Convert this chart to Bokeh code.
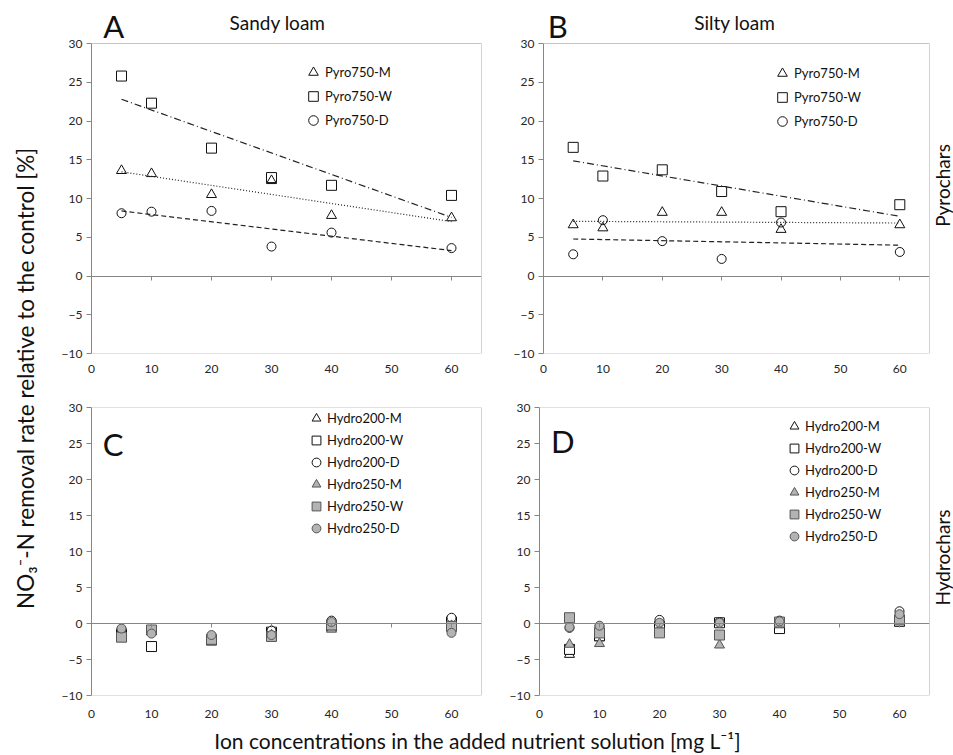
import numpy as np
from bokeh.plotting import figure
from bokeh.models import Legend, LegendItem, LinearAxis, FixedTicker, Label, Range1d, Span
from bokeh.layouts import row, column
from bokeh.embed import file_html
from bokeh.resources import INLINE
from bokeh.core.properties import value

FONT = "Lato"

# ---------------- data ----------------
conc = [5, 10, 20, 30, 40, 60]
x_ticks = [0, 10, 20, 30, 40, 50, 60]
y_ticks = [-10, -5, 0, 5, 10, 15, 20, 25, 30]

sandy_pyro750_M = [13.6, 13.2, 10.5, 12.3, 7.8, 7.5]
sandy_pyro750_W = [25.8, 22.3, 16.5, 12.7, 11.7, 10.4]
sandy_pyro750_D = [8.1, 8.3, 8.4, 3.8, 5.6, 3.6]

silty_pyro750_M = [6.6, 6.2, 8.2, 8.2, 6.0, 6.6]
silty_pyro750_W = [16.6, 12.9, 13.7, 10.9, 8.3, 9.2]
silty_pyro750_D = [2.8, 7.2, 4.5, 2.2, 6.9, 3.1]

sandy_hydro200_M = [-1.2, -1.0, -2.0, -0.7, -0.5, -0.2]
sandy_hydro200_W = [-1.5, -3.2, -2.3, -1.2, -0.3, 0.2]
sandy_hydro200_D = [-0.8, -1.2, -1.8, -1.0, 0.4, 0.8]
sandy_hydro250_M = [-1.3, -1.1, -2.0, -1.6, -0.8, -0.3]
sandy_hydro250_W = [-1.9, -0.9, -2.2, -1.8, -0.2, -0.4]
sandy_hydro250_D = [-0.7, -1.4, -1.6, -1.6, 0.2, -1.3]

silty_hydro200_M = [-4.3, -2.0, -0.3, 0.0, -0.3, 0.2]
silty_hydro200_W = [-3.6, -1.7, -0.4, 0.1, -0.7, 0.3]
silty_hydro200_D = [-0.6, -0.4, 0.5, 0.2, 0.4, 1.7]
silty_hydro250_M = [-2.9, -2.8, -0.8, -3.0, -0.2, 0.6]
silty_hydro250_W = [0.8, -1.3, -1.3, -1.6, 0.2, 0.5]
silty_hydro250_D = [-0.5, -0.3, 0.1, 0.1, 0.3, 1.3]

pyro_labels = ["Pyro750-M", "Pyro750-W", "Pyro750-D"]
hydro_labels = ["Hydro200-M", "Hydro200-W", "Hydro200-D",
                "Hydro250-M", "Hydro250-W", "Hydro250-D"]
soil_titles = ["Sandy loam", "Silty loam"]
panel_letters = ["A", "B", "C", "D"]
row_titles = ["Pyrochars", "Hydrochars"]
y_title = "NO\u2083\u207b-N  removal rate relative to the control [%]"
x_title = "Ion concentrations in the added nutrient solution [mg L\u207b\u00b9]"

Y_MIN, Y_MAX, X_MAX = -10, 30, 65

AXIS_GRAY = "#868686"
BORDER_GRAY = "#c4c4c4"
FILL_GRAY = "#b3b3b3"
EDGE_GRAY = "#555555"
INK = "#111111"


def make_panel(left, frame_w, right, top, plot_h, head, bottom, xstand):
    """plot_h: pixel height of the -10..30 box; head: extra pixels above it inside the frame."""
    y_top = Y_MAX + head * (Y_MAX - Y_MIN) / plot_h
    p = figure(title=None, width=left + frame_w + right, height=top + head + plot_h + bottom,
               x_range=Range1d(0, X_MAX), y_range=Range1d(Y_MIN, y_top),
               x_axis_type=None, y_axis_type=None,
               output_backend="svg", toolbar_location=None,
               min_border_left=left, min_border_right=right,
               min_border_top=top, min_border_bottom=bottom)
    p.outline_line_color = None
    yax = LinearAxis(ticker=FixedTicker(ticks=y_ticks), bounds=(Y_MIN, Y_MAX),
                     axis_line_color=AXIS_GRAY, major_tick_line_color=AXIS_GRAY,
                     major_tick_out=5, major_tick_in=0,
                     minor_tick_line_color=None,
                     major_label_standoff=4,
                     major_label_text_font=FONT,
                     major_label_text_font_size="12px",
                     major_label_text_color="#262626")
    p.add_layout(yax, "left")
    xax = LinearAxis(ticker=FixedTicker(ticks=x_ticks),
                     axis_line_color=None, major_tick_line_color=None,
                     minor_tick_line_color=None,
                     major_label_standoff=xstand,
                     major_label_text_font=FONT,
                     major_label_text_font_size="12px",
                     major_label_text_color="#262626")
    p.add_layout(xax, "below")
    zax = LinearAxis(fixed_location=0, ticker=FixedTicker(ticks=x_ticks),
                     axis_line_color=AXIS_GRAY, major_tick_line_color=AXIS_GRAY,
                     major_tick_out=4, major_tick_in=0,
                     minor_tick_line_color=None,
                     major_label_text_color=None)
    p.add_layout(zax, "below")
    # box border: top & bottom lines, right edge
    p.add_layout(Span(location=Y_MAX, dimension="width", line_color=BORDER_GRAY, line_width=1))
    p.add_layout(Span(location=Y_MIN, dimension="width", line_color=BORDER_GRAY, line_width=1))
    rax = LinearAxis(fixed_location=X_MAX, bounds=(Y_MIN, Y_MAX), ticker=FixedTicker(ticks=[]),
                     axis_line_color="#a8a8a8", major_tick_line_color=None,
                     minor_tick_line_color=None, major_label_text_color=None)
    p.add_layout(rax, "right")
    return p


def make_legend(items, loc, box):
    return Legend(items=items, location=loc, orientation="vertical",
                  glyph_width=box, glyph_height=box, label_height=box,
                  label_standoff=-4, spacing=0, padding=0, margin=0,
                  border_line_color=None, background_fill_alpha=0,
                  label_text_font=FONT, label_text_font_size="13px",
                  label_text_color=INK)


def pyro_panel(p, M, W, D, legend_loc):
    styles = [("triangle", 10, M, "1 2"), ("square", 10, W, "7 3 1 3"), ("circle", 9, D, "5 3")]
    items = []
    for (marker, size, vals, dash), lab in zip(styles, pyro_labels):
        r = p.scatter(conc, vals, marker=marker, size=size, fill_color=None,
                      line_color=INK, line_width=1)
        slope, intercept = np.polyfit(conc, vals, 1)
        xs = [conc[0], conc[-1]]
        ys = [slope * xv + intercept for xv in xs]
        p.line(xs, ys, line_color="#222222", line_width=1.2, line_dash=dash)
        items.append(LegendItem(label=lab, renderers=[r]))
    p.add_layout(make_legend(items, legend_loc, 24))


def hydro_panel(p, series, legend_loc, small_first=False):
    markers = ["triangle", "square", "circle", "triangle", "square", "circle"]
    sizes = [10, 10, 9, 10, 10, 9]
    if small_first:
        sizes[0] = 6
    items = []
    for i, (vals, lab) in enumerate(zip(series, hydro_labels)):
        gray = i >= 3
        r = p.scatter(conc, vals, marker=markers[i], size=sizes[i],
                      fill_color=FILL_GRAY if gray else "white",
                      line_color=EDGE_GRAY if gray else INK,
                      line_width=1)
        items.append(LegendItem(label=lab, renderers=[r]))
    p.add_layout(make_legend(items, legend_loc, 22))


def blank(w, h):
    f = figure(title=None, width=w, height=h, x_range=Range1d(0, w), y_range=Range1d(0, h),
               x_axis_type=None, y_axis_type=None, min_border=0,
               output_backend="svg", toolbar_location=None)
    f.outline_line_color = None
    return f


# ---------------- panels ----------------
pA = make_panel(41, 390, 10, 0, 310, 43, 32, 5)
pB = make_panel(52, 386, 1, 0, 310, 43, 32, 5)
pC = make_panel(41, 390, 10, 22, 290, 0, 25, 8)
pD = make_panel(48, 390, 1, 20, 290, 0, 27, 8)

# legend location: (left of glyph box, bottom of legend) from the frame's bottom-left, px
pyro_panel(pA, sandy_pyro750_M, sandy_pyro750_W, sandy_pyro750_D, (210, 221))
pyro_panel(pB, silty_pyro750_M, silty_pyro750_W, silty_pyro750_D, (227, 220))
hydro_panel(pC, [sandy_hydro200_M, sandy_hydro200_W, sandy_hydro200_D,
                 sandy_hydro250_M, sandy_hydro250_W, sandy_hydro250_D], (214, 156), small_first=True)
hydro_panel(pD, [silty_hydro200_M, silty_hydro200_W, silty_hydro200_D,
                 silty_hydro250_M, silty_hydro250_W, silty_hydro250_D], (244, 148))

# panel letters and soil titles (A/B above the box, C/D inside it)
for p, letter, lx, ly in [(pA, panel_letters[0], 3.7, 32.3), (pB, panel_letters[1], 2.4, 32.3),
                          (pC, panel_letters[2], 3.6, 25.0), (pD, panel_letters[3], 3.9, 25.4)]:
    p.add_layout(Label(x=lx, y=ly, text=letter, text_font=FONT,
                       text_font_size="31px", text_align="center",
                       text_baseline="middle", text_color=INK))
for p, title, tx in [(pA, soil_titles[0], 31.0), (pB, soil_titles[1], 32.2)]:
    p.add_layout(Label(x=tx, y=32.7, text=title, text_font=FONT,
                       text_font_size="19px", text_align="center",
                       text_baseline="middle", text_color=INK))

# ---------------- outer labels ----------------
H = 385 + 337
ylab = blank(50, H)
ylab.text(x=[25], y=[H - 375], text=[y_title], angle=np.pi / 2,
          text_font=value(FONT), text_font_size="22.5px", text_align="center",
          text_baseline="middle", text_color=INK)

rlab = blank(23, H)
rlab.text(x=[12, 12], y=[H - 185, H - 557], text=row_titles, angle=np.pi / 2,
          text_font=value(FONT), text_font_size="19px", text_align="center",
          text_baseline="middle", text_color=INK)

xlab = blank(953, 33)
xlab.text(x=[477], y=[15], text=[x_title],
          text_font=value(FONT), text_font_size="21px", text_align="center",
          text_baseline="middle", text_color=INK)

middle = column(row(pA, pB), row(pC, pD))
layout = column(row(ylab, middle, rlab), xlab)

open("out.html", "w").write(file_html(layout, INLINE))
